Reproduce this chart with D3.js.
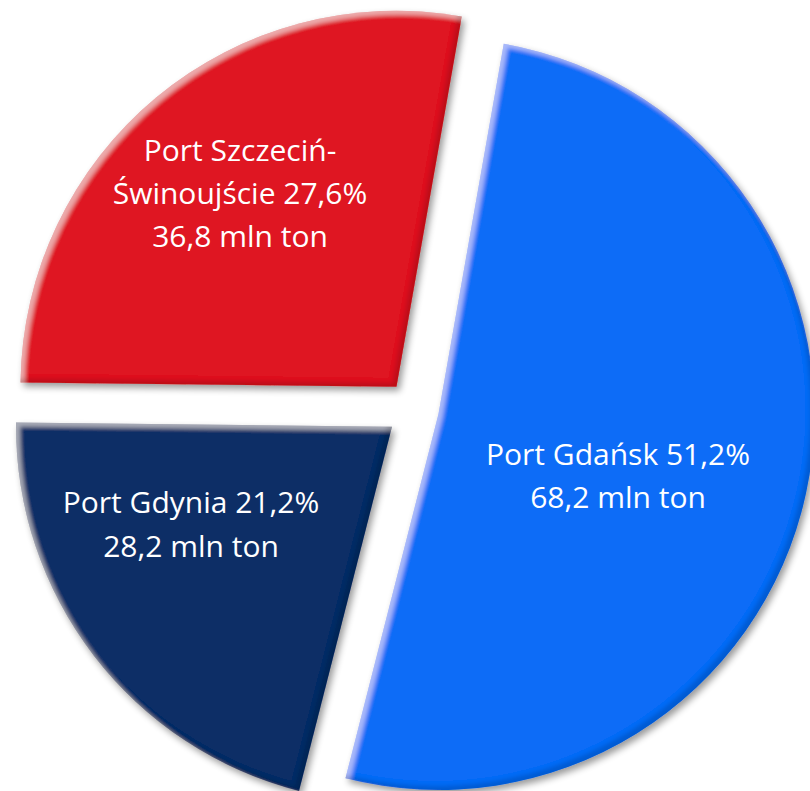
<!DOCTYPE html>
<html lang="pl">
<head>
    <meta charset="UTF-8">
    <title>Przeładunki w portach</title>
    <script src="https://cdn.jsdelivr.net/npm/d3@7"></script>
    <style>
      html, body { margin: 0; padding: 0; background: #fff; overflow: hidden; }
      .label { fill: #fff; font-family: "Open Sans", "Noto Sans", sans-serif; font-size: 30px; }
    </style>
</head>
<body>
<div id="chart"></div>
<script type="text/javascript">

// dane
var ports    = ["Port Gdańsk", "Port Gdynia", "Port Szczeciń-Świnoujście"];
var shares   = [51.2, 21.2, 27.6];
var tonnages = [68.2, 28.2, 36.8];
var colors   = ["#0a6cf7", "#0a2e66", "#df1822"];

const w = 810;
const h = 791;
const cx = 415, cy = 409;
const radius = 376;
const startAngle = 10 * Math.PI / 180;
// explode distance per slice
const explode = [24, 29, 29];
// label anchors (x center, first baseline, line step)
const labelPos = [
  {x: 618, y: 465, dy: 43},
  {x: 191, y: 513, dy: 44},
  {x: 240, y: 161, dy: 43}
];

var fmt = function(v) { return d3.format(".1f")(v).replace(".", ","); };

var rows = ports.map(function(p, i) {
  return {name: p, share: shares[i], tons: tonnages[i], color: colors[i], i: i};
});

var svg = d3.select("#chart")
  .append("svg")
  .attr("width", w)
  .attr("height", h);

// soft bevel + shadow like excel
var defs = svg.append("defs");
var f = defs.append("filter").attr("id", "bevel")
  .attr("x", "-10%").attr("y", "-10%").attr("width", "125%").attr("height", "125%");
f.append("feGaussianBlur").attr("in", "SourceAlpha").attr("stdDeviation", 2).attr("result", "b");
f.append("feOffset").attr("in", "b").attr("dx", 4).attr("dy", 4).attr("result", "bo1");
f.append("feComposite").attr("in", "SourceAlpha").attr("in2", "bo1").attr("operator", "out").attr("result", "hl");
f.append("feFlood").attr("flood-color", "#fff").attr("flood-opacity", 0.4).attr("result", "white");
f.append("feComposite").attr("in", "white").attr("in2", "hl").attr("operator", "in").attr("result", "hlc");
f.append("feOffset").attr("in", "b").attr("dx", -4).attr("dy", -4).attr("result", "bo2");
f.append("feComposite").attr("in", "SourceAlpha").attr("in2", "bo2").attr("operator", "out").attr("result", "sh");
f.append("feFlood").attr("flood-color", "#000").attr("flood-opacity", 0.3).attr("result", "black");
f.append("feComposite").attr("in", "black").attr("in2", "sh").attr("operator", "in").attr("result", "shc");
f.append("feGaussianBlur").attr("in", "SourceAlpha").attr("stdDeviation", 3.5).attr("result", "db");
f.append("feOffset").attr("in", "db").attr("dx", 3).attr("dy", 4).attr("result", "dbo");
f.append("feComponentTransfer").attr("in", "dbo").attr("result", "drop")
  .append("feFuncA").attr("type", "linear").attr("slope", 0.4);
var merge = f.append("feMerge");
["drop", "SourceGraphic", "hlc", "shc"].forEach(function(n) {
  merge.append("feMergeNode").attr("in", n);
});

var pie = d3.pie()
  .sort(null)
  .value(function(d) { return d.share; })
  .startAngle(startAngle)
  .endAngle(startAngle + 2 * Math.PI);

var arc = d3.arc()
  .innerRadius(0)
  .outerRadius(radius);

var g = svg.append("g")
  .attr("transform", "translate(" + cx + "," + cy + ")");

var slices = g.selectAll("g.slice")
  .data(pie(rows))
  .enter()
  .append("g")
  .attr("class", "slice")
  .attr("transform", function(d) {
    var a = (d.startAngle + d.endAngle) / 2;
    var off = explode[d.data.i];
    return "translate(" + (Math.sin(a) * off) + "," + (-Math.cos(a) * off) + ")";
  });

slices.append("path")
  .attr("d", arc)
  .attr("fill", function(d) { return d.data.color; })
  .attr("filter", "url(#bevel)");

// labels
var labels = svg.append("g");
rows.forEach(function(r) {
  var lines;
  if (r.name.indexOf("-") > 0) {
    var parts = r.name.split("-");
    lines = [parts[0] + "-", parts[1] + " " + fmt(r.share) + "%"];
  } else {
    lines = [r.name + " " + fmt(r.share) + "%"];
  }
  lines.push(fmt(r.tons) + " mln ton");
  var p = labelPos[r.i];
  var t = labels.append("text")
    .attr("class", "label")
    .attr("text-anchor", "middle");
  lines.forEach(function(l, k) {
    t.append("tspan")
      .attr("x", p.x)
      .attr("y", p.y + k * p.dy)
      .text(l);
  });
});
</script>
</body>
</html>
